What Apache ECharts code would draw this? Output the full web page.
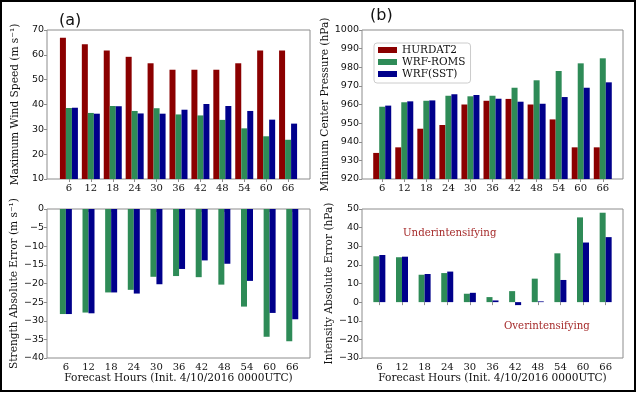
<!DOCTYPE html>
<html><head><meta charset="utf-8">
<script src="https://cdn.jsdelivr.net/npm/echarts@6/dist/echarts.min.js"></script>
<style>html,body{margin:0;padding:0;background:#fff}#c{width:637px;height:393px}</style>
</head><body><div id="c"></div>
<script>
const hours = [6,12,18,24,30,36,42,48,54,60,66];
const windHURDAT2 = [66.9,64.3,61.7,59.2,56.6,54.0,54.0,54.0,56.6,61.7,61.7];
const windROMS = [38.6,36.6,39.4,37.4,38.5,36.0,35.6,33.8,30.4,27.2,25.8];
const windSST = [38.7,36.3,39.3,36.4,36.3,37.9,40.2,39.4,37.4,33.9,32.3];
const presHURDAT2 = [934,937,947,949,960,962,963,960,952,937,937];
const presROMS = [958.8,961.2,962,964.7,964.4,964.7,969,973,978,982.1,984.8];
const presSST = [959.4,961.7,962.2,965.5,965.1,963.1,961.5,960.4,964,969,971.9];
const strErrROMS = [-28.2,-27.8,-22.4,-21.7,-18.2,-18.0,-18.3,-20.3,-26.2,-34.3,-35.5];
const strErrSST = [-28.2,-28.0,-22.4,-22.7,-20.2,-16.1,-13.8,-14.7,-19.3,-27.9,-29.6];
const intErrROMS = [24.6,24.1,14.7,15.6,4.5,2.7,5.9,12.6,26.2,45.5,48.0];
const intErrSST = [25.3,24.4,15.1,16.4,5.0,0.9,-1.6,0.4,11.9,32.0,34.9];
const seriesNames = ['HURDAT2','WRF-ROMS','WRF(SST)'];
const colors = {'HURDAT2':'#8b0000','WRF-ROMS':'#2e8b57','WRF(SST)':'#00008b'};
const xName = 'Forecast Hours (Init. 4/10/2016 0000UTC)';

const serif = 'DejaVu Serif';
const sans = 'DejaVu Sans';
const gray = '#8c8c8c';

function grid(left, top, width){
  return {left, top, width, height:149, show:true, borderColor:gray, borderWidth:1, backgroundColor:'transparent', containLabel:false};
}
function xAxis(gi, min, max, showName){
  return {type:'value', gridIndex:gi, min, max,
    splitLine:{show:false}, axisLine:{show:false},
    axisTick:{show:true, customValues:hours, length:3, lineStyle:{color:gray}},
    axisLabel:{customValues:hours, margin:4, fontFamily:serif, fontSize:10, color:'#111'},
    name: showName ? xName : '', nameLocation:'middle', nameGap:14,
    nameTextStyle:{fontFamily:serif, fontSize:10.6, color:'#111'}};
}
function yAxis(gi, min, max, interval, name){
  return {type:'value', gridIndex:gi, min, max, interval,
    splitLine:{show:false}, axisLine:{show:false},
    axisTick:{show:true, length:3, lineStyle:{color:gray}},
    axisLabel:{margin:3, fontFamily:sans, fontSize:9.5, color:'#111',
      formatter: v => String(v).replace('-', '\u2212')},
    name, nameLocation:'middle', nameGap:26,
    nameTextStyle:{fontFamily:serif, fontSize:10.6, color:'#111'}};
}
function bar(name, gi, arr){
  return {type:'bar', name, xAxisIndex:gi, yAxisIndex:gi,
    data: hours.map((h,k)=>[h, arr[k]]),
    barWidth:6, barGap:'0%', itemStyle:{color:colors[name]}, animation:false};
}

const option = {
  animation:false,
  grid:[grid(47,30,263), grid(362,30,261), grid(47,209,263), grid(362,209,261)],
  xAxis:[xAxis(0,0,72,false), xAxis(1,0.5,71.5,false), xAxis(2,1,70.7,true), xAxis(3,1.4,70.6,true)],
  yAxis:[
    yAxis(0,10,70,10,'Maximum Wind Speed (m s\u207B\u00B9)'),
    yAxis(1,920,1000,10,'Minimum Center Pressure (hPa)'),
    yAxis(2,-40,0,5,'Strength Absolute Error (m s\u207B\u00B9)'),
    yAxis(3,-30,50,10,'Intensity Absolute Error (hPa)')
  ],
  legend:{data:seriesNames, orient:'vertical', left:374, top:43, icon:'rect',
    itemWidth:19, itemHeight:6, itemGap:0, padding:[1,5,3,4],
    borderColor:'#cccccc', borderWidth:1, borderRadius:3, backgroundColor:'#fff',
    textStyle:{fontFamily:serif, fontSize:10.5, lineHeight:12, color:'#111'}},
  series:[
    bar('HURDAT2',0,windHURDAT2), bar('WRF-ROMS',0,windROMS), bar('WRF(SST)',0,windSST),
    bar('HURDAT2',1,presHURDAT2), bar('WRF-ROMS',1,presROMS), bar('WRF(SST)',1,presSST),
    bar('WRF-ROMS',2,strErrROMS), bar('WRF(SST)',2,strErrSST),
    bar('WRF-ROMS',3,intErrROMS), bar('WRF(SST)',3,intErrSST)
  ],
  graphic:[
    {type:'rect', shape:{x:1,y:1,width:634,height:390}, style:{fill:'none', stroke:'#000', lineWidth:2}, silent:true},
    {type:'text', x:59, y:21, style:{text:'(a)', font:'16px "DejaVu Sans"', fill:'#111', textVerticalAlign:'middle'}},
    {type:'text', x:370, y:16, style:{text:'(b)', font:'16px "DejaVu Sans"', fill:'#111', textVerticalAlign:'middle'}},
    {type:'text', x:403, y:233, style:{text:'Underintensifying', font:'10.2px "DejaVu Serif"', fill:'#a52a2a', textVerticalAlign:'middle'}},
    {type:'text', x:504, y:326, style:{text:'Overintensifying', font:'10.2px "DejaVu Serif"', fill:'#a52a2a', textVerticalAlign:'middle'}}
  ]
};
const chart = echarts.init(document.getElementById('c'), null, {renderer:'canvas'});
chart.setOption(option);
</script></body></html>
